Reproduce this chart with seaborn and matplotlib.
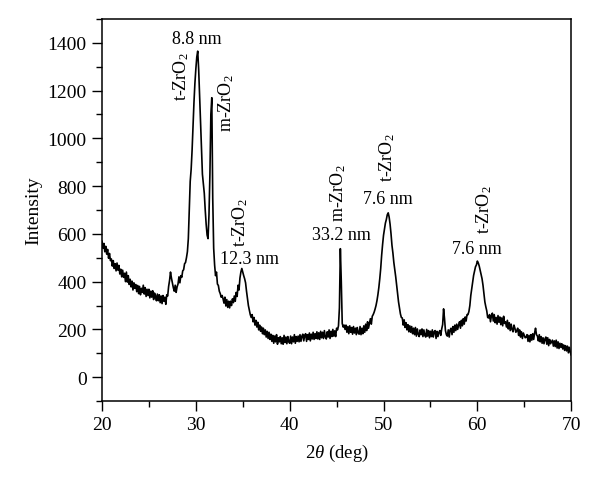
import numpy as np
import pandas as pd
import matplotlib
matplotlib.use("Agg")
import matplotlib.pyplot as plt
import seaborn as sns
from matplotlib.ticker import MultipleLocator

# 2-theta scan grid (20 to 70 deg, 0.1 deg step)
two_theta = np.linspace(20, 70, 501)

# Intensity, one row per degree (20.0 ... 20.9, 21.0 ... )
intensity = [
    570, 540, 560, 525, 548, 515, 535, 498, 518, 488,   # 20
    495, 465, 488, 455, 475, 445, 478, 448, 468, 432,   # 21
    452, 420, 448, 418, 435, 400, 440, 398, 425, 388,   # 22
    410, 378, 402, 365, 395, 372, 388, 358, 384, 350,   # 23
    380, 345, 372, 355, 385, 348, 375, 338, 368, 342,   # 24
    368, 332, 360, 335, 362, 325, 352, 340, 320, 348,   # 25
    320, 345, 312, 340, 308, 342, 318, 335, 305, 345,   # 26
    340, 380, 405, 440, 415, 395, 375, 360, 385, 355,   # 27
    378, 390, 420, 395, 425, 418, 445, 450, 475, 480,   # 28
    500, 525, 580, 700, 820, 870, 950, 1050, 1150, 1230,  # 29
    1290, 1340, 1365, 1290, 1180, 1080, 960, 850, 810, 770,  # 30
    700, 640, 595, 580, 680, 850, 1100, 1170, 750, 540,   # 31
    470, 425, 440, 390, 384, 360, 350, 335, 342, 328,   # 32
    310, 335, 298, 325, 292, 318, 290, 318, 300, 328,   # 33
    312, 340, 318, 355, 338, 385, 365, 415, 440, 455,   # 34
    440, 425, 412, 395, 360, 330, 300, 280, 262, 250,   # 35
    262, 232, 250, 218, 238, 210, 230, 198, 218, 192,   # 36
    210, 182, 205, 178, 198, 168, 192, 162, 188, 158,   # 37
    180, 150, 175, 142, 172, 148, 178, 138, 165, 148,   # 38
    170, 140, 165, 138, 175, 145, 168, 140, 170, 148,   # 39
    142, 172, 140, 168, 148, 178, 142, 170, 150, 172,   # 40
    148, 178, 150, 172, 180, 152, 175, 182, 150, 178,   # 41
    158, 185, 152, 180, 160, 188, 158, 182, 162, 190,   # 42
    160, 186, 158, 192, 165, 188, 162, 195, 168, 160,   # 43
    190, 168, 198, 162, 192, 170, 200, 172, 194, 170,   # 44
    205, 198, 215, 290, 538, 400, 225, 210, 218, 200,   # 45
    218, 188, 212, 182, 215, 188, 208, 180, 212, 185,   # 46
    205, 178, 208, 185, 180, 212, 178, 205, 182, 215,   # 47
    188, 222, 195, 232, 205, 225, 245, 222, 255, 262,   # 48
    272, 285, 300, 320, 345, 375, 412, 455, 510, 555,   # 49
    594, 620, 645, 660, 680, 688, 670, 640, 600, 552,   # 50
    520, 480, 450, 420, 384, 350, 315, 290, 265, 250,   # 51
    248, 218, 240, 208, 228, 198, 220, 190, 215, 188,   # 52
    212, 182, 205, 178, 208, 172, 202, 180, 170, 198,   # 53
    178, 202, 170, 198, 175, 168, 200, 172, 195, 165,   # 54
    192, 170, 198, 168, 190, 195, 162, 192, 170, 188,   # 55
    195, 175, 202, 220, 286, 245, 195, 178, 172, 198,   # 56
    168, 198, 205, 178, 212, 188, 218, 195, 222, 200,   # 57
    218, 232, 205, 238, 215, 245, 222, 252, 235, 262,   # 58
    262, 275, 300, 342, 370, 395, 426, 445, 462, 470,   # 59
    486, 478, 465, 448, 430, 412, 385, 350, 315, 295,   # 60
    278, 250, 248, 262, 232, 258, 268, 235, 262, 228,   # 61
    250, 222, 258, 230, 252, 220, 248, 215, 255, 225,   # 62
    232, 210, 238, 202, 228, 195, 222, 200, 190, 218,   # 63
    205, 188, 195, 205, 175, 198, 168, 190, 162, 185,   # 64
    175, 165, 168, 178, 150, 175, 148, 178, 155, 182,   # 65
    158, 185, 205, 178, 172, 152, 178, 148, 170, 142,   # 66
    165, 140, 160, 168, 138, 165, 132, 158, 140, 148,   # 67
    155, 130, 152, 128, 155, 122, 148, 120, 142, 125,   # 68
    140, 118, 135, 112, 132, 110, 130, 102, 125, 105,   # 69
    92,                                                 # 70
]

# Peak annotations: (text, x, y, rotation)
ann_texts = ["8.8 nm", "t-ZrO$_2$", "m-ZrO$_2$", "t-ZrO$_2$", "12.3 nm",
             "m-ZrO$_2$", "33.2 nm", "t-ZrO$_2$", "7.6 nm", "t-ZrO$_2$", "7.6 nm"]
ann_x = [30.1, 28.4, 33.2, 34.7, 35.7, 45.2, 45.5, 50.4, 50.5, 60.7, 60.0]
ann_y = [1418, 1263, 1150, 650, 497, 773, 597, 924, 748, 706, 538]
ann_rot = [0, 90, 90, 90, 0, 90, 0, 90, 0, 90, 0]

x_ticks = [20, 30, 40, 50, 60, 70]
y_ticks = [0, 200, 400, 600, 800, 1000, 1200, 1400]

sns.set_style("ticks")
plt.rcParams["font.family"] = ["Liberation Serif", "DejaVu Serif"]
plt.rcParams["mathtext.fontset"] = "custom"
plt.rcParams["mathtext.rm"] = "Liberation Serif"
plt.rcParams["mathtext.it"] = "Liberation Serif:italic"
plt.rcParams["text.color"] = "black"
plt.rcParams["axes.labelcolor"] = "black"

df = pd.DataFrame({"two_theta": two_theta, "intensity": intensity})

fig = plt.figure(figsize=(6.0, 4.85), dpi=100)
ax = fig.add_axes([0.17, 0.171, 0.782, 0.788])
sns.lineplot(data=df, x="two_theta", y="intensity", ax=ax, color="black",
             linewidth=1.2, sort=False)

ax.set_xlim(20, 70)
ax.set_ylim(-100, 1500)
ax.set_xticks(x_ticks)
ax.set_yticks(y_ticks)
ax.xaxis.set_minor_locator(MultipleLocator(5))
ax.yaxis.set_minor_locator(MultipleLocator(100))
ax.tick_params(axis="both", which="major", direction="out", length=7, width=1,
               labelsize=14, colors="black", pad=4)
ax.tick_params(axis="both", which="minor", direction="out", length=4, width=1,
               colors="black")
ax.tick_params(top=False, right=False, which="both")
for s in ax.spines.values():
    s.set_visible(True)
    s.set_linewidth(1.1)
    s.set_color("black")

ax.set_xlabel(r"2$\theta$ (deg)", fontsize=13.5, labelpad=6)
ax.set_ylabel("Intensity", fontsize=14, labelpad=4)

for t, xv, yv, r in zip(ann_texts, ann_x, ann_y, ann_rot):
    ax.text(xv, yv, t, rotation=r, ha="center", va="center", fontsize=13,
            color="black")

fig.savefig("out.png", dpi=100)
